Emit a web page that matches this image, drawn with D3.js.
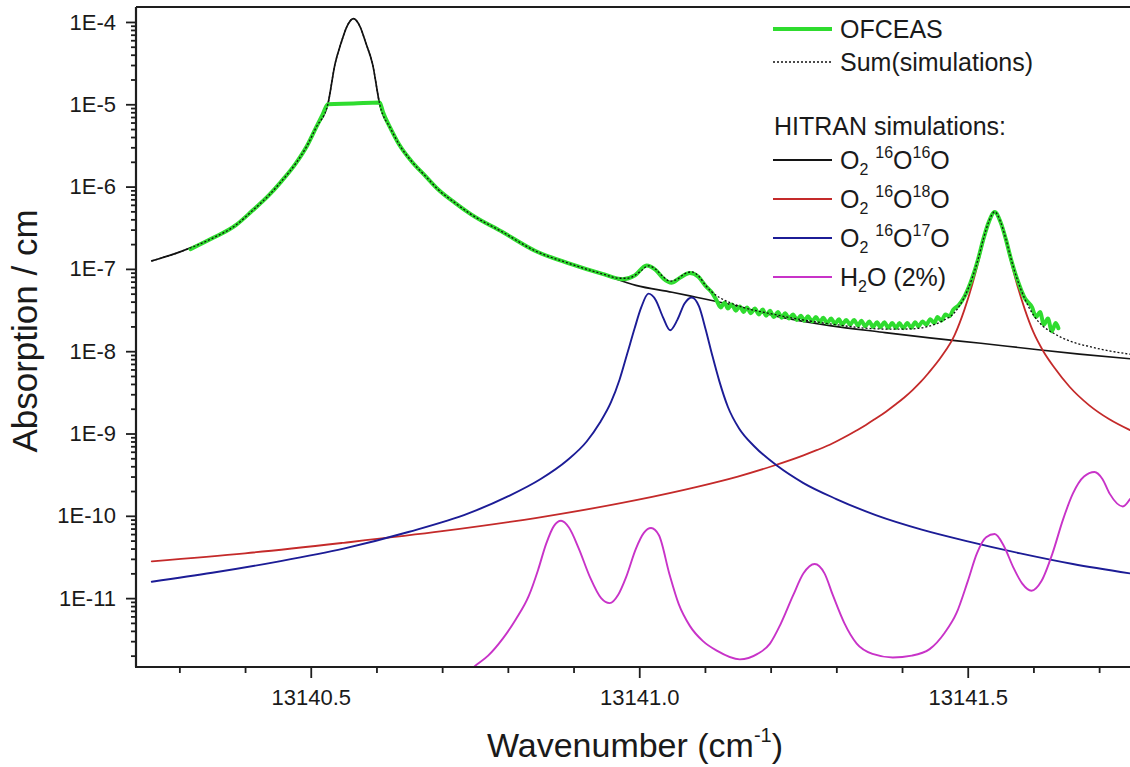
<!DOCTYPE html>
<html><head><meta charset="utf-8">
<script src="https://cdn.jsdelivr.net/npm/d3@7"></script>
<style>body{margin:0;background:#fff}svg{display:block}</style>
</head><body>
<svg id="c" width="1130" height="767"></svg>
<script>
// ---------- tick labels ----------
const xMajorTicks = [13140.5, 13141.0, 13141.5];
const xMajorLabels = ["13140.5", "13141.0", "13141.5"];
const xMinorTicks = [13140.3, 13140.4, 13140.6, 13140.7, 13140.8, 13140.9, 13141.1, 13141.2, 13141.3, 13141.4, 13141.6, 13141.7];
const yMajorTicks = [1e-4, 1e-5, 1e-6, 1e-7, 1e-8, 1e-9, 1e-10, 1e-11];
const yMajorLabels = ["1E-4", "1E-5", "1E-6", "1E-7", "1E-8", "1E-9", "1E-10", "1E-11"];
const yMinorMantissas = [2, 3, 4, 5, 6, 7, 8, 9];

// ---------- series: [wavenumber (cm-1), absorption (1/cm)] ----------
const o2_16O16O = [
  [13140.258,1.25e-7],[13140.30,1.6e-7],[13140.35,2.35e-7],[13140.386,3.4e-7],[13140.41,5.0e-7],
  [13140.436,7.8e-7],[13140.455,1.15e-6],[13140.477,1.9e-6],[13140.495,3.2e-6],[13140.508,5.2e-6],
  [13140.526,1.0e-5],[13140.537,3.1e-5],[13140.546,5.5e-5],[13140.555,8.8e-5],[13140.565,1.1e-4],
  [13140.575,8.8e-5],[13140.584,5.5e-5],[13140.594,3.1e-5],[13140.605,1.0e-5],[13140.622,5.0e-6],
  [13140.635,3.2e-6],[13140.653,2.05e-6],[13140.675,1.33e-6],[13140.694,9.2e-7],[13140.72,6.3e-7],
  [13140.744,4.6e-7],[13140.792,2.8e-7],[13140.842,1.65e-7],[13140.894,1.15e-7],[13140.944,8.6e-8],
  [13140.995,6.3e-8],[13141.05,5.2e-8],[13141.077,4.7e-8],[13141.138,3.7e-8],[13141.21,2.65e-8],
  [13141.29,2.05e-8],[13141.37,1.7e-8],[13141.442,1.45e-8],[13141.52,1.25e-8],[13141.594,1.07e-8],
  [13141.67,9.2e-9],[13141.747,8.1e-9]
];
const o2_16O18O = [
  [13140.258,2.8e-11],[13140.40,3.5e-11],[13140.55,4.7e-11],[13140.70,6.5e-11],[13140.842,9.4e-11],
  [13140.995,1.55e-10],[13141.088,2.25e-10],[13141.15,3.0e-10],[13141.203,4.03e-10],[13141.25,5.43e-10],
  [13141.27,6.27e-10],[13141.29,7.3e-10],[13141.31,8.8e-10],[13141.33,1.08e-9],[13141.345,1.27e-9],
  [13141.36,1.52e-9],[13141.375,1.83e-9],[13141.39,2.25e-9],[13141.403,2.72e-9],[13141.416,3.37e-9],
  [13141.428,4.2e-9],[13141.44,5.4e-9],[13141.46,8.6e-9],[13141.48,1.57e-8],[13141.495,3.2e-8],
  [13141.507,6.5e-8],[13141.516,1.2e-7],[13141.524,2.2e-7],[13141.532,3.6e-7],[13141.541,4.8e-7],
  [13141.550,3.6e-7],[13141.558,2.2e-7],[13141.566,1.2e-7],[13141.575,6.5e-8],[13141.587,3.2e-8],
  [13141.600,1.7e-8],[13141.615,1.0e-8],[13141.632,6.3e-9],[13141.655,3.7e-9],[13141.685,2.2e-9],
  [13141.715,1.5e-9],[13141.747,1.1e-9]
];
const o2_16O17O = [
  [13140.258,1.58e-11],[13140.35,2.03e-11],[13140.45,2.78e-11],[13140.55,4.0e-11],[13140.65,6.4e-11],
  [13140.74,1.07e-10],[13140.80,1.72e-10],[13140.85,2.8e-10],[13140.89,4.7e-10],[13140.92,8.0e-10],
  [13140.94,1.35e-9],[13140.957,2.4e-9],[13140.970,4.5e-9],[13140.982,9.5e-9],[13140.993,1.9e-8],
  [13141.003,3.4e-8],[13141.014,5.0e-8],[13141.025,4.2e-8],[13141.036,2.6e-8],[13141.047,1.8e-8],
  [13141.058,2.4e-8],[13141.069,3.8e-8],[13141.080,4.5e-8],[13141.091,3.5e-8],[13141.101,1.85e-8],
  [13141.111,9.0e-9],[13141.122,4.3e-9],[13141.135,2.1e-9],[13141.152,1.15e-9],[13141.175,7.0e-10],
  [13141.21,4.05e-10],[13141.25,2.5e-10],[13141.30,1.6e-10],[13141.36,1.02e-10],[13141.43,6.8e-11],
  [13141.50,4.9e-11],[13141.58,3.5e-11],[13141.66,2.6e-11],[13141.747,2.0e-11]
];
const h2o = [
  [13140.73,1.0e-12],[13140.748,1.45e-12],[13140.77,2.0e-12],[13140.792,3.2e-12],[13140.812,5.5e-12],
  [13140.832,1.07e-11],[13140.846,2.2e-11],[13140.858,4.5e-11],[13140.870,7.5e-11],[13140.881,8.7e-11],
  [13140.893,7.2e-11],[13140.908,4.0e-11],[13140.925,1.8e-11],[13140.942,1.0e-11],[13140.955,8.7e-12],
  [13140.968,1.1e-11],[13140.980,1.8e-11],[13140.995,4.0e-11],[13141.007,6.2e-11],[13141.018,7.1e-11],
  [13141.030,5.8e-11],[13141.046,1.95e-11],[13141.060,8.5e-12],[13141.077,4.6e-12],[13141.097,3.0e-12],
  [13141.118,2.3e-12],[13141.153,1.8e-12],[13141.180,2.1e-12],[13141.199,2.8e-12],[13141.215,4.8e-12],
  [13141.234,1.07e-11],[13141.250,2.0e-11],[13141.267,2.6e-11],[13141.282,2.0e-11],[13141.295,1.07e-11],
  [13141.312,5.0e-12],[13141.331,2.8e-12],[13141.355,2.1e-12],[13141.386,1.9e-12],[13141.415,2.0e-12],
  [13141.442,2.4e-12],[13141.465,3.8e-12],[13141.483,6.6e-12],[13141.500,1.6e-11],[13141.514,3.5e-11],
  [13141.528,5.5e-11],[13141.541,6.0e-11],[13141.555,4.3e-11],[13141.569,2.4e-11],[13141.583,1.5e-11],
  [13141.597,1.23e-11],[13141.612,1.6e-11],[13141.629,3.5e-11],[13141.645,9.0e-11],[13141.660,1.86e-10],
  [13141.677,3.0e-10],[13141.693,3.4e-10],[13141.705,2.8e-10],[13141.716,1.86e-10],[13141.736,1.3e-10],
  [13141.747,1.6e-10]
];
const sumSimulations = [
  [13140.258,1.25e-7],[13140.30,1.6e-7],[13140.35,2.35e-7],[13140.386,3.4e-7],[13140.41,5.0e-7],
  [13140.436,7.8e-7],[13140.455,1.15e-6],[13140.477,1.9e-6],[13140.495,3.2e-6],[13140.508,5.2e-6],
  [13140.526,1.0e-5],[13140.537,3.1e-5],[13140.546,5.5e-5],[13140.555,8.8e-5],[13140.565,1.1e-4],
  [13140.575,8.8e-5],[13140.584,5.5e-5],[13140.594,3.1e-5],[13140.605,1.0e-5],[13140.622,5.0e-6],
  [13140.635,3.2e-6],[13140.653,2.05e-6],[13140.675,1.33e-6],[13140.694,9.2e-7],[13140.72,6.3e-7],
  [13140.744,4.6e-7],[13140.792,2.8e-7],[13140.842,1.65e-7],[13140.894,1.16e-7],[13140.944,8.7e-8],
  [13140.970,7.7e-8],[13140.982,7.7e-8],[13140.993,8.3e-8],[13141.003,9.5e-8],[13141.014,1.09e-7],
  [13141.025,9.9e-8],[13141.036,8.1e-8],[13141.047,7.1e-8],[13141.058,7.5e-8],[13141.069,8.7e-8],
  [13141.080,9.2e-8],[13141.091,8.1e-8],[13141.101,6.3e-8],[13141.111,5.2e-8],[13141.122,4.5e-8],
  [13141.138,3.9e-8],[13141.21,2.75e-8],[13141.29,2.15e-8],[13141.36,1.87e-8],[13141.39,1.85e-8],
  [13141.416,1.87e-8],[13141.44,2.0e-8],[13141.46,2.3e-8],[13141.48,2.95e-8],[13141.495,4.55e-8],
  [13141.507,7.8e-8],[13141.516,1.33e-7],[13141.524,2.33e-7],[13141.532,3.73e-7],[13141.541,4.93e-7],
  [13141.550,3.72e-7],[13141.558,2.32e-7],[13141.566,1.32e-7],[13141.575,7.6e-8],[13141.587,4.3e-8],
  [13141.600,2.75e-8],[13141.615,2.0e-8],[13141.632,1.63e-8],[13141.655,1.33e-8],[13141.685,1.14e-8],
  [13141.715,1.01e-8],[13141.747,9.2e-9]
];
const ofceas = [
  [13140.317,1.74e-7],[13140.35,2.35e-7],[13140.386,3.4e-7],[13140.41,5.0e-7],[13140.436,7.8e-7],
  [13140.455,1.15e-6],[13140.477,1.9e-6],[13140.495,3.2e-6],[13140.508,5.2e-6],[13140.518,7.5e-6],
  [13140.526,1.0e-5],[13140.565,1.02e-5],[13140.605,1.05e-5],[13140.610,8.0e-6],[13140.622,5.0e-6],
  [13140.635,3.2e-6],[13140.653,2.05e-6],[13140.675,1.33e-6],[13140.694,9.2e-7],[13140.72,6.3e-7],
  [13140.744,4.6e-7],[13140.792,2.8e-7],[13140.842,1.65e-7],[13140.894,1.16e-7],[13140.944,8.7e-8],
  [13140.975,7.5e-8],[13140.993,8.3e-8],[13141.011,1.1e-7],[13141.025,9.7e-8],[13141.037,7.6e-8],
  [13141.049,6.8e-8],[13141.062,7.8e-8],[13141.077,8.9e-8],[13141.090,8.0e-8],[13141.101,6.2e-8],
  [13141.111,5.1e-8],
  [13141.118,4.1e-8],[13141.124,3.4e-8],[13141.130,3.9e-8],[13141.135,3.3e-8],[13141.141,3.7e-8],
  [13141.147,3.1e-8],[13141.153,3.5e-8],[13141.159,3.0e-8],[13141.164,3.4e-8],[13141.170,2.9e-8],
  [13141.176,3.3e-8],[13141.182,2.8e-8],[13141.188,3.2e-8],[13141.193,2.7e-8],[13141.199,3.1e-8],
  [13141.205,2.6e-8],[13141.211,3.0e-8],[13141.217,2.55e-8],[13141.222,2.9e-8],[13141.228,2.5e-8],
  [13141.234,2.8e-8],[13141.240,2.4e-8],[13141.246,2.7e-8],[13141.251,2.35e-8],[13141.257,2.65e-8],
  [13141.263,2.3e-8],[13141.269,2.6e-8],[13141.275,2.25e-8],[13141.280,2.55e-8],[13141.286,2.2e-8],
  [13141.292,2.5e-8],[13141.298,2.15e-8],[13141.304,2.45e-8],[13141.309,2.1e-8],[13141.315,2.4e-8],
  [13141.321,2.1e-8],[13141.327,2.4e-8],[13141.333,2.05e-8],[13141.338,2.35e-8],[13141.344,2.0e-8],
  [13141.350,2.3e-8],[13141.356,1.97e-8],[13141.362,2.25e-8],[13141.367,1.95e-8],[13141.373,2.25e-8],
  [13141.379,1.93e-8],[13141.385,2.2e-8],[13141.391,1.92e-8],[13141.396,2.2e-8],[13141.402,1.9e-8],
  [13141.408,2.2e-8],[13141.414,1.93e-8],[13141.420,2.25e-8],[13141.425,2.0e-8],[13141.431,2.3e-8],
  [13141.437,2.1e-8],[13141.443,2.45e-8],[13141.449,2.2e-8],[13141.454,2.6e-8],[13141.460,2.35e-8],
  [13141.466,2.8e-8],[13141.472,2.65e-8],[13141.478,3.2e-8],[13141.486,3.6e-8],
  [13141.495,4.6e-8],[13141.507,7.8e-8],[13141.516,1.33e-7],[13141.524,2.33e-7],[13141.532,3.7e-7],
  [13141.541,4.9e-7],[13141.550,3.7e-7],[13141.558,2.3e-7],[13141.566,1.3e-7],[13141.575,7.6e-8],
  [13141.587,4.4e-8],[13141.598,3.4e-8],[13141.604,2.6e-8],[13141.610,3.0e-8],[13141.616,2.1e-8],
  [13141.622,2.5e-8],[13141.628,1.75e-8],[13141.634,2.2e-8],[13141.638,1.9e-8]
];

// ---------- layout ----------
const W = 1130, H = 767;
const plot = {left: 136, right: 1130, top: 7, bottom: 667};
const FONT = "'Liberation Sans', Arial, Helvetica, sans-serif";
const AXIS_COLOR = "#1e1e1e";

const svg = d3.select("#c");
svg.append("rect").attr("width", W).attr("height", H).attr("fill", "#fff");

const x = d3.scaleLinear().domain([13140.234, 13141.747]).range([plot.left, plot.right]);
const y = d3.scaleLog().domain([1.456e-12, 1.52e-4]).range([plot.bottom, plot.top]);

svg.append("clipPath").attr("id", "clip").append("rect")
  .attr("x", plot.left).attr("y", plot.top)
  .attr("width", plot.right - plot.left).attr("height", plot.bottom - plot.top);

const line = d3.line().x(d => x(d[0])).y(d => y(d[1])).curve(d3.curveMonotoneX);
const g = svg.append("g").attr("clip-path", "url(#clip)");

const series = [
  {data: o2_16O16O, color: "#141414", width: 1.7},
  {data: o2_16O18O, color: "#c42a2a", width: 1.8},
  {data: o2_16O17O, color: "#1c1c96", width: 1.9},
  {data: h2o, color: "#c833c8", width: 1.9},
  {data: ofceas, color: "#2fdc2f", width: 4},
];
series.forEach(s => {
  g.append("path").datum(s.data).attr("d", line)
    .attr("fill", "none").attr("stroke", s.color).attr("stroke-width", s.width)
    .attr("stroke-linejoin", "round").attr("stroke-linecap", "round");
});
g.append("path").datum(sumSimulations).attr("d", line)
  .attr("fill", "none").attr("stroke", "#111").attr("stroke-width", 1.3)
  .attr("stroke-dasharray", "2,2");

// ---------- axes ----------
const yMinor = [];
for (let e = -12; e <= -4; e++) yMinorMantissas.forEach(m => {
  const v = m * Math.pow(10, e);
  if (v > y.domain()[0] && v < y.domain()[1]) yMinor.push(v);
});

function styleAxis(sel) {
  sel.selectAll(".domain").remove();
  sel.selectAll("line").attr("stroke", AXIS_COLOR).attr("stroke-width", 1.8);
  sel.selectAll("text").attr("fill", "#1a1a1a").style("font-family", FONT).style("font-size", "22px");
}

svg.append("g").attr("transform", `translate(${plot.left},0)`)
  .call(d3.axisLeft(y).tickValues(yMinor).tickSize(5).tickFormat(""))
  .call(styleAxis);
svg.append("g").attr("transform", `translate(${plot.left},0)`)
  .call(d3.axisLeft(y).tickValues(yMajorTicks).tickSize(10).tickPadding(10)
    .tickFormat((d, i) => yMajorLabels[i]))
  .call(styleAxis);

svg.append("g").attr("transform", `translate(0,${plot.bottom})`)
  .call(d3.axisBottom(x).tickValues(xMinorTicks).tickSize(6).tickFormat(""))
  .call(styleAxis);
svg.append("g").attr("transform", `translate(0,${plot.bottom})`)
  .call(d3.axisBottom(x).tickValues(xMajorTicks).tickSize(11).tickPadding(11)
    .tickFormat((d, i) => xMajorLabels[i]))
  .call(styleAxis);

// frame lines
svg.append("path")
  .attr("d", `M${plot.left},${plot.top}H${plot.right + 2}M${plot.left},${plot.top}V${plot.bottom}M${plot.left - 1},${plot.bottom}H${plot.right + 2}`)
  .attr("stroke", AXIS_COLOR).attr("stroke-width", 2.2).attr("fill", "none");

// ---------- axis titles ----------
const xt = svg.append("text").attr("x", 635).attr("y", 757).attr("text-anchor", "middle")
  .style("font-family", FONT).style("font-size", "34px").attr("fill", "#1a1a1a");
xt.append("tspan").text("Wavenumber (cm");
xt.append("tspan").attr("dy", -15).style("font-size", "20px").text("-1");
xt.append("tspan").attr("dy", 15).text(")");

svg.append("text").attr("transform", "translate(37,331) rotate(-90)").attr("text-anchor", "middle")
  .style("font-family", FONT).style("font-size", "35px").attr("fill", "#1a1a1a")
  .text("Absorption / cm");

// ---------- legend ----------
const leg = svg.append("g").style("font-family", FONT).style("font-size", "25px").attr("fill", "#1a1a1a");
const lx0 = 773, lx1 = 832, tx = 840;
function legLine(yy, color, width, dash) {
  const l = leg.append("line").attr("x1", lx0).attr("x2", lx1).attr("y1", yy).attr("y2", yy)
    .attr("stroke", color).attr("stroke-width", width);
  if (dash) l.attr("stroke-dasharray", dash);
}
legLine(29, "#2fdc2f", 4);
leg.append("text").attr("x", tx).attr("y", 38).text("OFCEAS");
legLine(62, "#111", 1.3, "2,2");
leg.append("text").attr("x", tx).attr("y", 71).text("Sum(simulations)");
leg.append("text").attr("x", 774).attr("y", 135).text("HITRAN simulations:");

const isoEntries = [
  {color: "#141414", a: "16", b: "16", yy: 160},
  {color: "#c42a2a", a: "16", b: "18", yy: 199},
  {color: "#1c1c96", a: "16", b: "17", yy: 238},
];
isoEntries.forEach(e => {
  legLine(e.yy, e.color, 1.8);
  const t = leg.append("text").attr("x", tx).attr("y", e.yy + 9);
  t.append("tspan").text("O");
  t.append("tspan").attr("dy", 6).style("font-size", "16px").text("2");
  t.append("tspan").attr("dy", -6).text(" ");
  t.append("tspan").attr("dy", -11).style("font-size", "16px").text(e.a);
  t.append("tspan").attr("dy", 11).text("O");
  t.append("tspan").attr("dy", -11).style("font-size", "16px").text(e.b);
  t.append("tspan").attr("dy", 11).text("O");
});
legLine(277, "#c833c8", 1.8);
const ht = leg.append("text").attr("x", tx).attr("y", 286);
ht.append("tspan").text("H");
ht.append("tspan").attr("dy", 6).style("font-size", "16px").text("2");
ht.append("tspan").attr("dy", -6).text("O (2%)");
</script>
</body></html>
